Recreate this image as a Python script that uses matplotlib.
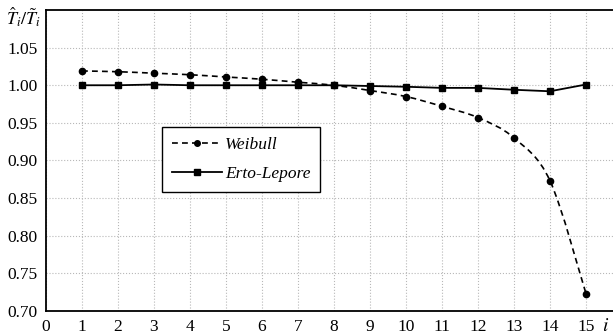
import matplotlib
matplotlib.use("Agg")
import matplotlib.pyplot as plt
from matplotlib.path import Path
from matplotlib.patches import PathPatch
from matplotlib.lines import Line2D

plt.rcParams['font.family'] = ['Liberation Serif', 'DejaVu Serif']
plt.rcParams['mathtext.fontset'] = 'stix'

i_vals = list(range(1, 16))
weibull = [1.019, 1.018, 1.016, 1.014, 1.011, 1.008, 1.004, 1.000, 0.993,
           0.985, 0.972, 0.957, 0.930, 0.873, 0.723]
erto = [1.000, 1.000, 1.001, 1.000, 1.000, 1.000, 1.000, 1.000, 0.999,
        0.998, 0.9965, 0.9965, 0.994, 0.992, 1.001]
xticks = list(range(0, 16))
yticks = [0.70, 0.75, 0.80, 0.85, 0.90, 0.95, 1.00, 1.05]


def smooth_path(xs, ys):
    """Catmull-Rom style smoothed path (like a spreadsheet 'smoothed line')."""
    pts = list(zip(xs, ys))
    n = len(pts)
    verts = [pts[0]]
    codes = [Path.MOVETO]
    for k in range(n - 1):
        p0 = pts[k - 1] if k > 0 else pts[k]
        p1 = pts[k]
        p2 = pts[k + 1]
        p3 = pts[k + 2] if k + 2 < n else pts[k + 1]
        c1 = (p1[0] + (p2[0] - p0[0]) / 6.0, p1[1] + (p2[1] - p0[1]) / 6.0)
        c2 = (p2[0] - (p3[0] - p1[0]) / 6.0, p2[1] - (p3[1] - p1[1]) / 6.0)
        verts += [c1, c2, p2]
        codes += [Path.CURVE4] * 3
    return Path(verts, codes)


fig = plt.figure(figsize=(6.13, 3.34), dpi=100)
ax = fig.add_axes([0.075, 0.069, 0.925, 0.901])

dash = (3.5, 2.5)
patch = PathPatch(smooth_path(i_vals, weibull), fill=False, edgecolor='black',
                  lw=1.2, linestyle=(0, dash), zorder=3)
ax.add_patch(patch)
ax.plot(i_vals, weibull, ls='none', color='black', marker='o', ms=4.5, zorder=4)
ax.plot(i_vals, erto, '-', color='black', lw=1.3, marker='s', ms=5, zorder=4)

ax.set_xlim(0, 15.75)
ax.set_ylim(0.70, 1.10)
ax.set_xticks(xticks)
ax.set_yticks(yticks)
ax.set_yticklabels([f"{v:.2f}" for v in yticks])
ax.tick_params(length=0, labelsize=12.5)
ax.tick_params(axis='x', pad=6)
ax.tick_params(axis='y', pad=6)
ax.grid(True, color='#b8b8b8', ls=':', lw=0.8)
ax.set_axisbelow(True)
ax.spines['right'].set_visible(False)
for s in ['left', 'bottom', 'top']:
    ax.spines[s].set_linewidth(1.3)

handles = [
    Line2D([], [], color='black', lw=1.2, ls=(0, dash), marker='o', ms=4),
    Line2D([], [], color='black', lw=1.3, ls='-', marker='s', ms=4.5),
]
leg = ax.legend(handles, ['Weibull', 'Erto-Lepore'], loc='upper left',
                bbox_to_anchor=(0.2046, 0.611), borderaxespad=0, frameon=True,
                fancybox=False, edgecolor='black', framealpha=1,
                prop={'style': 'italic', 'size': 12.5}, handlelength=2.9,
                handletextpad=0.2, labelspacing=0.75, borderpad=0.55)
leg.get_frame().set_linewidth(1.0)

fig.text(0.039, 0.949, r'$\hat{T}_i/\tilde{T}_i$', fontsize=13, ha='center', va='center')
fig.text(0.988, 0.022, r'$i$', fontsize=14, ha='center', va='center')

fig.savefig('out.png', dpi=100)
